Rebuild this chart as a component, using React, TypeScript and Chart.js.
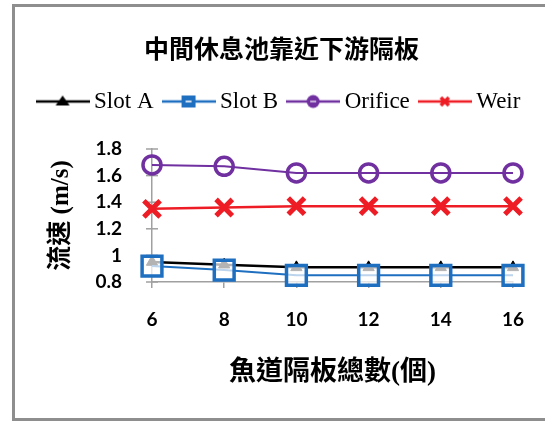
import React, { useEffect, useRef } from 'react';
import { Chart, registerables } from 'chart.js';

Chart.register(...registerables);

const TITLE = '中間休息池靠近下游隔板';
const X_TITLE = '魚道隔板總數(個)';
const Y_TITLE = '流速 (m/s)';

const categories = ['6', '8', '10', '12', '14', '16'];
const seriesNames = ['Slot A', 'Slot B', 'Orifice', 'Weir'];
const slotA = [0.95, 0.93, 0.91, 0.91, 0.91, 0.91];
const slotB = [0.92, 0.89, 0.85, 0.85, 0.85, 0.85];
const orifice = [1.68, 1.67, 1.62, 1.62, 1.62, 1.62];
const weir = [1.35, 1.36, 1.37, 1.37, 1.37, 1.37];

const Y_MIN = 0.8;
const Y_MAX = 1.8;
const Y_STEP = 0.2;

const BLACK = '#000000';
const BLUE = '#1f6fc0';
const PURPLE = '#7030a0';
const RED = '#ee1c24';
const AXIS_GRAY = '#a0a0a0';

function makeIcon(kind: string, color: string): HTMLCanvasElement {
  const c = document.createElement('canvas');
  c.width = 54;
  c.height = 22;
  const g = c.getContext('2d') as CanvasRenderingContext2D;
  g.strokeStyle = color;
  g.lineWidth = 2.5;
  g.beginPath();
  g.moveTo(0, 11);
  g.lineTo(54, 11);
  g.stroke();
  g.fillStyle = color;
  if (kind === 'triangle') {
    g.beginPath();
    g.moveTo(27, 5);
    g.lineTo(34, 15);
    g.lineTo(20, 15);
    g.closePath();
    g.fill();
  } else if (kind === 'rect') {
    g.fillRect(20, 5, 14, 12);
    g.fillStyle = 'rgba(255,255,255,0.8)';
    g.fillRect(24, 10, 6, 2);
  } else if (kind === 'circle') {
    g.beginPath();
    g.arc(27, 11, 6.5, 0, Math.PI * 2);
    g.fill();
    g.fillStyle = 'rgba(255,255,255,0.6)';
    g.fillRect(24, 10, 6, 2);
  } else if (kind === 'cross') {
    g.lineWidth = 3.5;
    g.beginPath();
    g.moveTo(23, 7);
    g.lineTo(31, 15);
    g.moveTo(31, 7);
    g.lineTo(23, 15);
    g.stroke();
  }
  return c;
}

const crossTicks = {
  id: 'crossTicks',
  beforeDatasetsDraw(chart: any) {
    const s = chart.scales.y;
    const ctx = chart.ctx;
    const x = chart.chartArea.left;
    ctx.save();
    ctx.strokeStyle = AXIS_GRAY;
    ctx.lineWidth = 1.5;
    s.ticks.forEach((t: any) => {
      const y = s.getPixelForValue(t.value);
      ctx.beginPath();
      ctx.moveTo(x - 6, y);
      ctx.lineTo(x + 6, y);
      ctx.stroke();
    });
    ctx.restore();
  },
};

export default function App() {
  const ref = useRef<HTMLCanvasElement | null>(null);

  useEffect(() => {
    if (!ref.current) return;
    const icons = [
      makeIcon('triangle', BLACK),
      makeIcon('rect', BLUE),
      makeIcon('circle', PURPLE),
      makeIcon('cross', RED),
    ];
    const chart = new Chart(ref.current, {
      type: 'line',
      data: {
        labels: categories,
        datasets: [
          {
            label: seriesNames[0],
            data: slotA,
            borderColor: BLACK,
            backgroundColor: BLACK,
            borderWidth: 2.5,
            pointStyle: 'triangle',
            pointRadius: 6.5,
            pointBackgroundColor: BLACK,
            pointBorderColor: BLACK,
            pointBorderWidth: 1,
            xAxisID: 'x',
            yAxisID: 'y',
            clip: false,
          },
          {
            label: seriesNames[1],
            data: slotB,
            borderColor: BLUE,
            backgroundColor: BLUE,
            borderWidth: 2,
            pointStyle: 'rect',
            pointRadius: 14,
            pointBackgroundColor: 'rgba(255,255,255,0.7)',
            pointBorderColor: BLUE,
            pointBorderWidth: 3.5,
            xAxisID: 'x',
            yAxisID: 'y',
            clip: false,
            order: -1,
          },
          {
            label: seriesNames[2],
            data: orifice,
            borderColor: PURPLE,
            backgroundColor: PURPLE,
            borderWidth: 2,
            pointStyle: 'circle',
            pointRadius: 9,
            pointBackgroundColor: 'rgba(255,255,255,0)',
            pointBorderColor: PURPLE,
            pointBorderWidth: 3.5,
            xAxisID: 'x',
            yAxisID: 'y',
            clip: false,
          },
          {
            label: seriesNames[3],
            data: weir,
            borderColor: RED,
            backgroundColor: RED,
            borderWidth: 2.5,
            pointStyle: 'crossRot',
            pointRadius: 11.5,
            pointBorderColor: RED,
            pointBorderWidth: 5,
            xAxisID: 'x',
            yAxisID: 'y',
            clip: false,
          },
        ],
      },
      options: {
        responsive: false,
        animation: false,
        devicePixelRatio: 1,
        layout: { padding: { left: 18, right: 0, top: 0, bottom: 0 } },
        plugins: {
          title: {
            display: true,
            text: TITLE,
            color: '#000',
            font: { size: 25, weight: 'bold', family: "'Noto Sans CJK TC'" },
            padding: { top: 33, bottom: 12 },
          },
          legend: {
            display: true,
            position: 'top',
            labels: {
              usePointStyle: true,
              pointStyleWidth: 40,
              color: '#000',
              padding: 15,
              font: { size: 23, family: "'Liberation Serif'" },
              generateLabels: (ch: any) =>
                ch.data.datasets.map((ds: any, i: number) => ({
                  text: ds.label,
                  pointStyle: icons[i],
                  datasetIndex: i,
                  hidden: false,
                  fillStyle: ds.borderColor,
                  strokeStyle: ds.borderColor,
                  lineWidth: 0,
                  fontColor: '#000',
                })),
            },
          },
          tooltip: { enabled: false },
        },
        scales: {
          x: {
            type: 'category',
            position: 'bottom',
            offset: false,
            grid: {
              display: true,
              drawOnChartArea: false,
              drawTicks: true,
              tickLength: 6,
              color: AXIS_GRAY,
              lineWidth: 1.5,
            },
            border: { display: true, color: AXIS_GRAY, width: 1.5 },
            ticks: {
              color: '#000',
              padding: 20,
              maxRotation: 0,
              autoSkip: false,
              font: { size: 19, weight: 'bold', family: 'Lato' },
            },
            title: {
              display: true,
              text: X_TITLE,
              color: '#000',
              font: { size: 27, weight: 'bold', family: "'Liberation Serif', 'Noto Sans CJK TC'" },
              padding: { top: 0, bottom: 32 },
            },
            afterFit: (s: any) => {
              s.height = 139;
            },
          },
          y: {
            type: 'linear',
            position: 'left',
            min: Y_MIN,
            max: Y_MAX,
            grid: { display: false },
            border: { display: true, color: AXIS_GRAY, width: 1.5 },
            ticks: {
              stepSize: Y_STEP,
              color: '#000',
              padding: 22,
              font: { size: 19, weight: 'bold', family: 'Lato' },
              callback: (v: any) => String(Math.round(Number(v) * 10) / 10),
            },
            title: {
              display: true,
              text: Y_TITLE,
              color: '#000',
              font: { size: 25, weight: 'bold', family: "'Liberation Serif', 'Noto Sans CJK TC'" },
              padding: { top: 29, bottom: 0 },
            },
            afterFit: (s: any) => {
              s.width = 134;
            },
          },
          xT: {
            type: 'linear',
            axis: 'x',
            position: 'top',
            display: true,
            grid: { display: false },
            border: { display: false },
            ticks: { display: false },
            afterFit: (s: any) => {
              s.height = 26;
            },
          },
          yR: {
            type: 'linear',
            axis: 'y',
            position: 'right',
            display: true,
            grid: { display: false },
            border: { display: false },
            ticks: { display: false },
            afterFit: (s: any) => {
              s.width = 32;
            },
          },
        },
      } as any,
      plugins: [crossTicks],
    });
    return () => chart.destroy();
  }, []);

  return (
    <div
      style={{
        position: 'fixed',
        left: 0,
        top: 0,
        width: 545,
        height: 421,
        overflow: 'hidden',
        background: '#fff',
      }}
    >
      <div
        style={{
          position: 'absolute',
          left: 12,
          top: 4,
          width: 600,
          height: 411,
          border: '3px solid #8e8e8e',
        }}
      />
      <canvas
        ref={ref}
        width={545}
        height={421}
        style={{ position: 'absolute', left: 0, top: 0, width: 545, height: 421 }}
      />
    </div>
  );
}
